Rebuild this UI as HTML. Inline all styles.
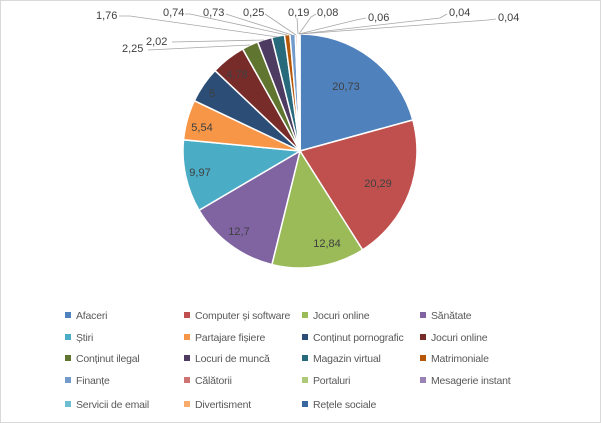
<!DOCTYPE html>
<html><head><meta charset="utf-8"><style>
body{margin:0;background:#fff}
svg{display:block;font-family:"Liberation Sans",sans-serif}
</style></head><body>
<svg width="601" height="423" viewBox="0 0 601 423" xmlns="http://www.w3.org/2000/svg">
<rect x="0.5" y="0.5" width="600" height="422" fill="#fff" stroke="#d9d9d9"/>
<g stroke="#fff" stroke-width="1.5">
<path d="M300,151L300,34A117,117 0 0 1 412.81,119.98Z" fill="#4F81BD"/>
<path d="M300,151L412.81,119.98A117,117 0 0 1 362.57,249.87Z" fill="#C0504D"/>
<path d="M300,151L362.57,249.87A117,117 0 0 1 271.90,264.57Z" fill="#9BBB59"/>
<path d="M300,151L271.90,264.57A117,117 0 0 1 199.09,210.23Z" fill="#8064A2"/>
<path d="M300,151L199.09,210.23A117,117 0 0 1 183.54,139.79Z" fill="#4BACC6"/>
<path d="M300,151L183.54,139.79A117,117 0 0 1 194.36,100.71Z" fill="#F79646"/>
<path d="M300,151L194.36,100.71A117,117 0 0 1 215.06,70.54Z" fill="#2C4D75"/>
<path d="M300,151L215.06,70.54A117,117 0 0 1 242.68,48.99Z" fill="#772C2A"/>
<path d="M300,151L242.68,48.99A117,117 0 0 1 257.61,41.94Z" fill="#5F7530"/>
<path d="M300,151L257.61,41.94A117,117 0 0 1 271.76,37.46Z" fill="#4D3B62"/>
<path d="M300,151L271.76,37.46A117,117 0 0 1 284.47,35.04Z" fill="#276A7C"/>
<path d="M300,151L284.47,35.04A117,117 0 0 1 289.87,34.44Z" fill="#B65708"/>
<path d="M300,151L289.87,34.44A117,117 0 0 1 295.23,34.09Z" fill="#729ACA"/>
<path d="M300,151L295.23,34.09A117,117 0 0 1 297.06,34.04Z" fill="#CD7371"/>
<path d="M300,151L297.06,34.04A117,117 0 0 1 298.45,34.01Z" fill="#AFC97A"/>
<path d="M300,151L298.45,34.01A117,117 0 0 1 299.04,34Z" fill="#9983B5"/>
<path d="M300,151L299.04,34A117,117 0 0 1 299.49,34Z" fill="#6FBDD1"/>
<path d="M300,151L299.49,34A117,117 0 0 1 299.78,34Z" fill="#F9AB6B"/>
<path d="M300,151L299.78,34A117,117 0 0 1 300,34Z" fill="#3A689E"/>
</g>
<g font-size="11" fill="#404040" text-anchor="middle">
<text x="346" y="90">20,73</text>
<text x="378" y="187">20,29</text>
<text x="327" y="247">12,84</text>
<text x="239" y="235">12,7</text>
<text x="200" y="176">9,97</text>
<text x="202" y="131">5,54</text>
<text x="212" y="97">5</text>
<text x="237" y="78">4,78</text>
</g>
<g stroke="#a6a6a6" stroke-width="0.8" fill="none">
<polyline points="148,50 250,45"/>
<polyline points="172,42 264,40"/>
<polyline points="119,16 130,16 278,37"/>
<polyline points="185,14 190,14 287,35"/>
<polyline points="226,14 232,16 292,35"/>
<polyline points="265,14 268,16 296,35"/>
<polyline points="297,18 298,34"/>
<polyline points="316,14 311,17 299,34"/>
<polyline points="366,18 356,20 299,34"/>
<polyline points="447,14 440,18 300,34"/>
<polyline points="496,19 488,20 300,34"/>
</g>
<g font-size="11" fill="#404040">
<text x="96" y="19">1,76</text>
<text x="163" y="16">0,74</text>
<text x="203" y="16">0,73</text>
<text x="243" y="16">0,25</text>
<text x="288" y="16">0,19</text>
<text x="317" y="16">0,08</text>
<text x="368" y="21">0,06</text>
<text x="449" y="16">0,04</text>
<text x="498" y="21">0,04</text>
<text x="146" y="45">2,02</text>
<text x="122" y="52">2,25</text>
</g>
<g font-size="10.5" fill="#595959" letter-spacing="-0.2">
<rect x="65" y="312" width="6" height="6" fill="#4F81BD"/><text x="76" y="319">Afaceri</text>
<rect x="184" y="312" width="6" height="6" fill="#C0504D"/><text x="195" y="319">Computer și software</text>
<rect x="302" y="312" width="6" height="6" fill="#9BBB59"/><text x="313" y="319">Jocuri online</text>
<rect x="420" y="312" width="6" height="6" fill="#8064A2"/><text x="431" y="319">Sănătate</text>
<rect x="65" y="334" width="6" height="6" fill="#4BACC6"/><text x="76" y="341">Știri</text>
<rect x="184" y="334" width="6" height="6" fill="#F79646"/><text x="195" y="341">Partajare fișiere</text>
<rect x="302" y="334" width="6" height="6" fill="#2C4D75"/><text x="313" y="341">Conținut pornografic</text>
<rect x="420" y="334" width="6" height="6" fill="#772C2A"/><text x="431" y="341">Jocuri online</text>
<rect x="65" y="355" width="6" height="6" fill="#5F7530"/><text x="76" y="362">Conținut ilegal</text>
<rect x="184" y="355" width="6" height="6" fill="#4D3B62"/><text x="195" y="362">Locuri de muncă</text>
<rect x="302" y="355" width="6" height="6" fill="#276A7C"/><text x="313" y="362">Magazin virtual</text>
<rect x="420" y="355" width="6" height="6" fill="#B65708"/><text x="431" y="362">Matrimoniale</text>
<rect x="65" y="377" width="6" height="6" fill="#729ACA"/><text x="76" y="384">Finanțe</text>
<rect x="184" y="377" width="6" height="6" fill="#CD7371"/><text x="195" y="384">Călătorii</text>
<rect x="302" y="377" width="6" height="6" fill="#AFC97A"/><text x="313" y="384">Portaluri</text>
<rect x="420" y="377" width="6" height="6" fill="#9983B5"/><text x="431" y="384">Mesagerie instant</text>
<rect x="65" y="401" width="6" height="6" fill="#6FBDD1"/><text x="76" y="408">Servicii de email</text>
<rect x="184" y="401" width="6" height="6" fill="#F9AB6B"/><text x="195" y="408">Divertisment</text>
<rect x="302" y="401" width="6" height="6" fill="#3A689E"/><text x="313" y="408">Rețele sociale</text>
</g>
</svg>
</body></html>
